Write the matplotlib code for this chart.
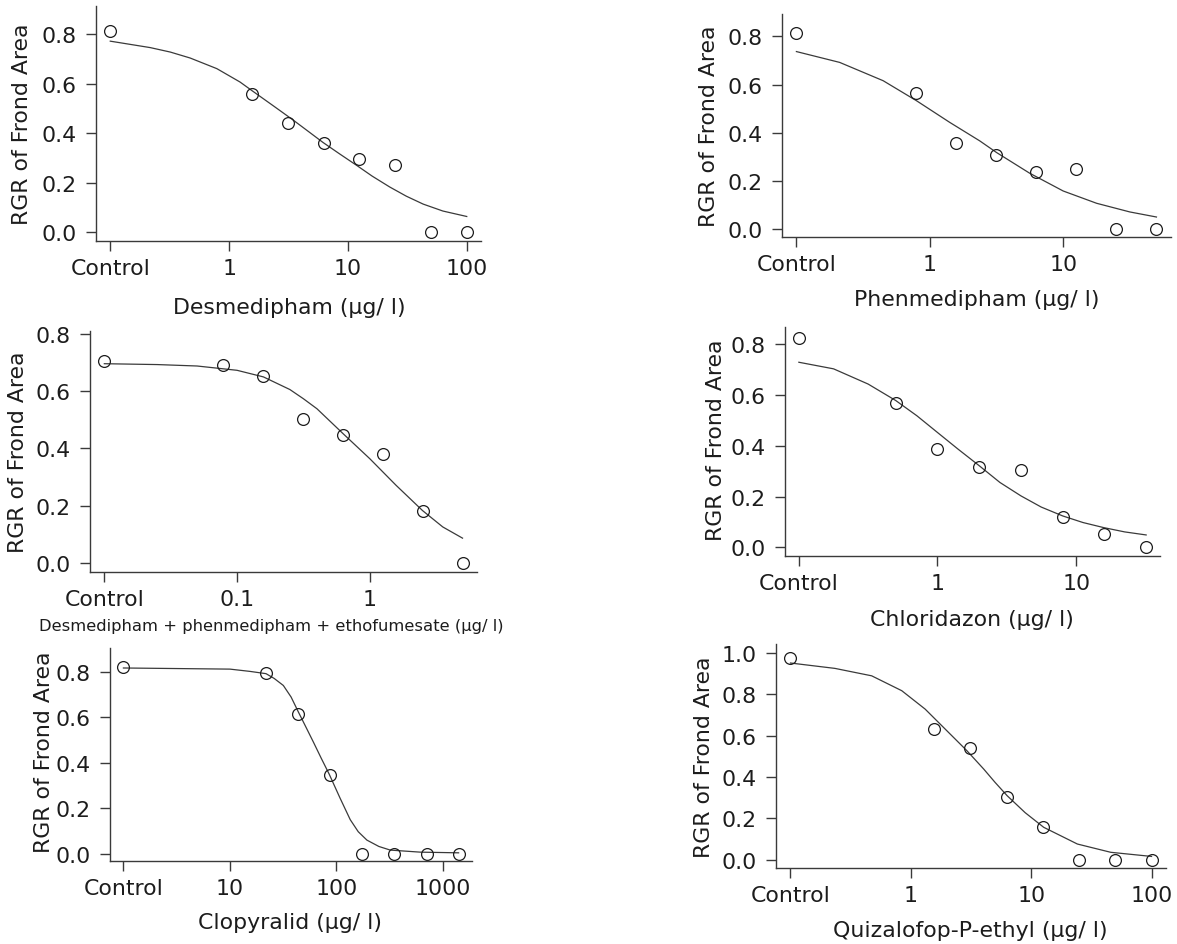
import numpy as np
import matplotlib
matplotlib.use("Agg")
import matplotlib.pyplot as plt
from matplotlib.ticker import NullLocator

plt.rcParams['font.family'] = ['DejaVu Sans']

W, H = 1177, 945
YLABEL = "RGR of Frond Area"

# --- data (dose 0 = control) ---
desm_dose = [0, 1.5625, 3.125, 6.25, 12.5, 25, 50, 100]
desm_rgr = [0.813, 0.559, 0.442, 0.360, 0.294, 0.271, 0.0, 0.0]
desm_fit_dose = [0.1, 0.217, 0.32, 0.47, 0.789, 1.236, 1.55, 2.355, 3.47, 4.6, 6.17,
                 8.5, 11.8, 16, 22.5, 31, 43, 63, 100]
desm_fit_rgr = [0.771, 0.745, 0.727, 0.703, 0.660, 0.606, 0.572, 0.510, 0.452, 0.408,
                0.362, 0.316, 0.270, 0.226, 0.182, 0.145, 0.113, 0.085, 0.063]

phen_dose = [0, 0.78125, 1.5625, 3.125, 6.25, 12.5, 25, 50]
phen_rgr = [0.813, 0.567, 0.356, 0.307, 0.236, 0.248, 0.0, 0.0]
phen_fit_dose = [0.1, 0.211, 0.447, 0.794, 1.41, 2.37, 3.16, 5.6, 10, 17.8, 31.6, 50]
phen_fit_rgr = [0.737, 0.692, 0.616, 0.533, 0.443, 0.366, 0.318, 0.232, 0.158, 0.107,
                0.071, 0.050]

mix_dose = [0, 0.078125, 0.15625, 0.3125, 0.625, 1.25, 2.5, 5]
mix_rgr = [0.703, 0.689, 0.651, 0.502, 0.446, 0.381, 0.182, 0.0]
mix_fit_dose = [0.01, 0.025, 0.05, 0.1, 0.158, 0.25, 0.316, 0.4, 0.63, 1.0, 1.58, 2.5,
                3.55, 5.0]
mix_fit_rgr = [0.695, 0.692, 0.687, 0.672, 0.649, 0.605, 0.573, 0.538, 0.451, 0.364,
               0.271, 0.183, 0.126, 0.087]

chlo_dose = [0, 0.5, 1, 2, 4, 8, 16, 32]
chlo_rgr = [0.825, 0.571, 0.389, 0.315, 0.304, 0.121, 0.054, 0.0]
chlo_fit_dose = [0.1, 0.178, 0.316, 0.5, 0.71, 1.0, 1.41, 2.0, 2.82, 4.0, 5.6, 8.0,
                 11.2, 15.8, 22.4, 32]
chlo_fit_rgr = [0.730, 0.704, 0.644, 0.579, 0.519, 0.453, 0.387, 0.322, 0.256, 0.203,
                0.159, 0.124, 0.098, 0.078, 0.061, 0.049]

clop_dose = [0, 21.875, 43.75, 87.5, 175, 350, 700, 1400]
clop_rgr = [0.824, 0.797, 0.614, 0.345, 0.0, 0.0, 0.0, 0.0]
clop_fit_dose = [1, 10, 15.4, 21.8, 26, 31.7, 37.5, 44, 52, 60.8, 72, 85.3, 108,
                 134.6, 160, 193, 250, 320, 612, 1400]
clop_fit_rgr = [0.818, 0.813, 0.803, 0.793, 0.772, 0.741, 0.690, 0.623, 0.555, 0.491,
                0.420, 0.351, 0.245, 0.150, 0.097, 0.060, 0.032, 0.016, 0.007, 0.004]

quiz_dose = [0, 1.5625, 3.125, 6.25, 12.5, 25, 50, 100]
quiz_rgr = [0.974, 0.635, 0.542, 0.306, 0.160, 0.0, 0.0, 0.0]
quiz_fit_dose = [0.1, 0.234, 0.473, 0.841, 1.315, 1.932, 2.93, 4.03, 5.0, 6.31, 8.9,
                 12.7, 24.2, 45.8, 100]
quiz_fit_rgr = [0.952, 0.926, 0.890, 0.818, 0.729, 0.632, 0.527, 0.439, 0.375, 0.310,
                0.228, 0.157, 0.076, 0.036, 0.016]

panels = [
    dict(xlabel="Desmedipham (µg/ l)", dose=desm_dose, rgr=desm_rgr,
         fx=desm_fit_dose, fy=desm_fit_rgr, ctrl=0.1, ticks=[1, 10, 100],
         labels=["1", "10", "100"], yticks=[0, 0.2, 0.4, 0.6, 0.8],
         rect=(96, 7, 481, 242), xlim=(-1.12, 2.12), ylim=(-0.036, 0.913),
         xl=(289, 308), yl=(22, 124), xfs=15.8),
    dict(xlabel="Phenmedipham (µg/ l)", dose=phen_dose, rgr=phen_rgr,
         fx=phen_fit_dose, fy=phen_fit_rgr, ctrl=0.1, ticks=[1, 10],
         labels=["1", "10"], yticks=[0, 0.2, 0.4, 0.6, 0.8],
         rect=(782, 15, 1171, 238), xlim=(-1.108, 1.808), ylim=(-0.033, 0.893),
         xl=(977, 300), yl=(709, 126), xfs=15.8),
    dict(xlabel="Desmedipham + phenmedipham + ethofumesate (µg/ l)", dose=mix_dose,
         rgr=mix_rgr, fx=mix_fit_dose, fy=mix_fit_rgr, ctrl=0.01, ticks=[0.1, 1],
         labels=["0.1", "1"], yticks=[0, 0.2, 0.4, 0.6, 0.8],
         rect=(90, 332, 477, 573), xlim=(-2.108, 0.808), ylim=(-0.031, 0.809),
         xl=(271, 627), yl=(18, 452), xfs=11.8),
    dict(xlabel="Chloridazon (µg/ l)", dose=chlo_dose, rgr=chlo_rgr,
         fx=chlo_fit_dose, fy=chlo_fit_rgr, ctrl=0.1, ticks=[1, 10],
         labels=["1", "10"], yticks=[0, 0.2, 0.4, 0.6, 0.8],
         rect=(785, 328, 1160, 557), xlim=(-1.1, 1.605), ylim=(-0.034, 0.869),
         xl=(972, 620), yl=(716, 440), xfs=15.8),
    dict(xlabel="Clopyralid (µg/ l)", dose=clop_dose, rgr=clop_rgr,
         fx=clop_fit_dose, fy=clop_fit_rgr, ctrl=1, ticks=[10, 100, 1000],
         labels=["10", "100", "1000"], yticks=[0, 0.2, 0.4, 0.6, 0.8],
         rect=(110, 649, 472, 862), xlim=(-0.126, 3.272), ylim=(-0.032, 0.906),
         xl=(290, 923), yl=(44, 752), xfs=15.8),
    dict(xlabel="Quizalofop-P-ethyl (µg/ l)", dose=quiz_dose, rgr=quiz_rgr,
         fx=quiz_fit_dose, fy=quiz_fit_rgr, ctrl=0.1, ticks=[1, 10, 100],
         labels=["1", "10", "100"], yticks=[0, 0.2, 0.4, 0.6, 0.8, 1.0],
         rect=(776, 645, 1166, 869), xlim=(-1.12, 2.12), ylim=(-0.040, 1.044),
         xl=(970, 931), yl=(704, 757), xfs=15.8),
]

ink = "#1c1c1c"
line = "#3a3a3a"

fig = plt.figure(figsize=(W / 100, H / 100), dpi=100)
for p in panels:
    l, t, r, b = p["rect"]
    ax = fig.add_axes([l / W, 1 - b / H, (r - l) / W, (b - t) / H])
    x = [p["ctrl"] if d == 0 else d for d in p["dose"]]
    ax.plot(p["fx"], p["fy"], color=line, lw=0.9)
    ax.plot(x, p["rgr"], "o", mfc="none", mec=ink, ms=8.5, mew=0.9, clip_on=False)
    ax.set_xscale("log")
    ax.set_xlim(10 ** p["xlim"][0], 10 ** p["xlim"][1])
    ax.set_ylim(*p["ylim"])
    ax.xaxis.set_minor_locator(NullLocator())
    ax.set_xticks([p["ctrl"]] + p["ticks"])
    ax.set_xticklabels(["Control"] + p["labels"])
    ax.set_yticks(p["yticks"])
    ax.set_yticklabels([f"{v:.1f}" for v in p["yticks"]])
    for s in ["top", "right"]:
        ax.spines[s].set_visible(False)
    for s in ["left", "bottom"]:
        ax.spines[s].set_color(line)
        ax.spines[s].set_linewidth(1.0)
    ax.tick_params(axis="both", direction="out", length=7, width=1.0, color=line,
                   labelsize=15.8, labelcolor=ink)
    ax.tick_params(axis="x", pad=5)
    ax.tick_params(axis="y", pad=7)
    ax.set_xlabel(p["xlabel"], fontsize=p["xfs"], color=ink, va="center")
    ax.xaxis.set_label_coords(p["xl"][0] / W, 1 - p["xl"][1] / H, transform=fig.transFigure)
    ax.set_ylabel(YLABEL, fontsize=15.8, color=ink, va="center")
    ax.yaxis.set_label_coords(p["yl"][0] / W, 1 - p["yl"][1] / H, transform=fig.transFigure)

fig.savefig("out.png", dpi=100, facecolor="white")
